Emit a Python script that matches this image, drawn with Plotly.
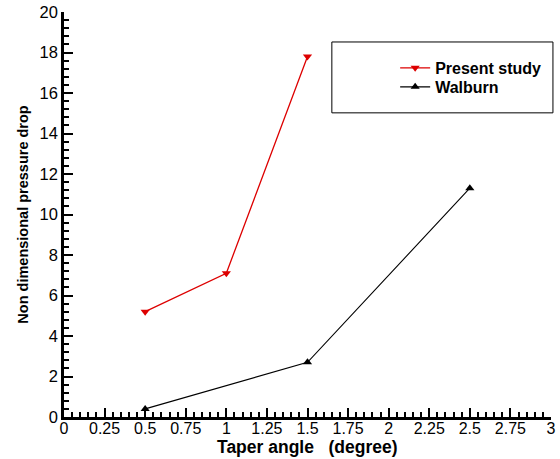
import plotly.graph_objects as go

taper_angle = [0.5, 1.0, 1.5]
present_study = [5.2, 7.1, 17.8]
walburn_angle = [0.5, 1.5, 2.5]
walburn = [0.4, 2.7, 11.3]

x_ticks = [0, 0.25, 0.5, 0.75, 1, 1.25, 1.5, 1.75, 2, 2.25, 2.5, 2.75, 3]
x_tick_labels = ["0", "0.25", "0.5", "0.75", "1", "1.25", "1.5", "1.75", "2", "2.25", "2.5", "2.75", "3"]
y_ticks = [0, 2, 4, 6, 8, 10, 12, 14, 16, 18, 20]

FONT = "Liberation Sans, Arial, Helvetica, sans-serif"

fig = go.Figure()
fig.add_trace(go.Scatter(
    x=taper_angle, y=present_study, mode="lines+markers", name="<b>Present study</b>",
    line=dict(color="#dd0000", width=1.3),
    marker=dict(symbol="triangle-down", size=8, color="#dd0000"),
    cliponaxis=False, legend="legend",
))
fig.add_trace(go.Scatter(
    x=walburn_angle, y=walburn, mode="lines+markers", name="<b>Walburn</b>",
    line=dict(color="black", width=1.1),
    marker=dict(symbol="triangle-up", size=8, color="black"),
    cliponaxis=False, legend="legend2",
))

axis_common = dict(
    showgrid=False, zeroline=False, showline=True, linecolor="black", linewidth=2.5,
    ticks="inside", ticklen=9, tickwidth=2, tickcolor="black", automargin=False,
)

fig.update_xaxes(
    range=[0, 3], tickvals=x_ticks, ticktext=x_tick_labels, ticklabelstandoff=-5,
    tickfont=dict(family=FONT, size=16, color="black"),
    minor=dict(dtick=0.05, ticks="inside", ticklen=5, tickwidth=1.5, tickcolor="black", showgrid=False),
    **axis_common,
)
fig.update_yaxes(
    range=[0, 20], tickvals=y_ticks,
    tickfont=dict(family=FONT, size=16.5, color="black"),
    minor=dict(dtick=0.4, ticks="inside", ticklen=5, tickwidth=1.5, tickcolor="black", showgrid=False),
    title=dict(text="<b>Non dimensional pressure drop</b>", font=dict(family=FONT, size=14.5, color="black"), standoff=8),
    **axis_common,
)

fig.add_annotation(text="<b>Taper angle   (degree)</b>", xref="paper", yref="paper",
                   x=0.5, y=0, yshift=-30, xanchor="center", yanchor="middle", showarrow=False,
                   font=dict(family=FONT, size=17.5, color="black"))

fig.add_shape(type="rect", xref="paper", yref="paper",
              x0=0.550, x1=1.004, y0=0.751, y1=0.926,
              line=dict(color="black", width=1), fillcolor="rgba(0,0,0,0)")

leg = dict(xanchor="left", yanchor="middle", bgcolor="rgba(0,0,0,0)", borderwidth=0,
           font=dict(family=FONT, size=16, color="black"), itemwidth=30)

fig.update_layout(
    width=560, height=459,
    margin=dict(l=64, r=9, t=12, b=42),
    paper_bgcolor="white", plot_bgcolor="white",
    showlegend=True,
    legend=dict(x=0.680, y=0.862, **leg),
    legend2=dict(x=0.680, y=0.815, **leg),
)

fig.write_html("out.html")
